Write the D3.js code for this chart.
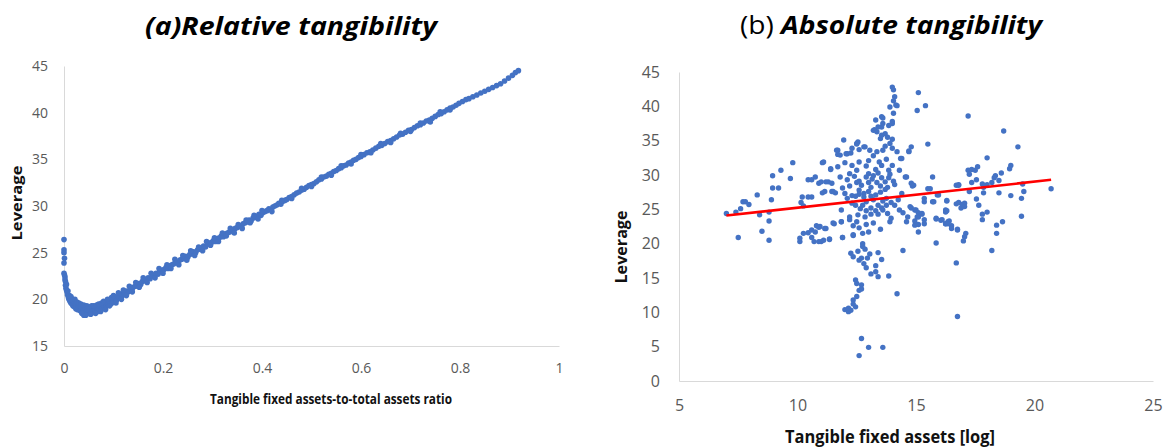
<!DOCTYPE html>
<html>
<head>
<meta charset="utf-8">
<script src="https://cdn.jsdelivr.net/npm/d3@7"></script>
<style>
  body { margin: 0; background: #fff; }
  text { font-family: "Open Sans", "Noto Sans", sans-serif; }
</style>
</head>
<body>
<svg id="chart" width="1169" height="447"></svg>
<script>
// (a) relative tangibility: [ratio, leverage]
const relPoints = [
  [0,26.4],[0,25.3],[0,25.0],[0.001,24.4],[0,23.9],[0.001,22.6],[0,22.8],[0.002,22.4],[0.002,22.1],
  [0.003,21.9],[0.003,21.5],[0.004,21.2],[0.005,21.0],[0.005,21.6],[0.006,20.8],[0.007,20.5],[0.008,20.9],
  [0.009,20.2],[0.010,20.0],[0.011,20.4],[0.012,19.8],[0.014,19.6],[0.015,20.1],[0.016,19.5],[0.018,19.3],
  [0.019,19.8],[0.021,19.2],[0.022,19.6],[0.024,19.0],[0.025,19.4],[0.027,18.9],[0.028,19.3],[0.030,19.1],
  [0.032,18.8],[0.033,19.2],[0.035,18.9],[0.037,18.6],[0.038,19.1],[0.040,18.3],[0.041,18.8],[0.043,19.0],
  [0.045,18.6],[0.047,18.9],[0.049,18.5],[0.051,18.8],[0.053,19.0],[0.055,18.7],[0.057,18.9],[0.059,18.6],
  [0.061,19.0],[0.063,18.8],[0.065,19.1],[0.067,18.7],[0.069,19.0],[0.071,18.9],[0.073,19.2],[0.075,18.9],
  [0.078,19.1],[0.080,19.4],[0.082,19.0],[0.085,19.3],[0.087,19.6],[0.090,19.4],[0.093,19.7],[0.095,19.5],
  [0.098,19.9],[0.100,19.7],[0.103,20.1],[0.106,19.9],[0.109,20.3],[0.112,20.2],[0.115,20.5],[0.118,20.4],
  [0.121,20.7],[0.124,20.6],[0.127,20.9],[0.130,20.8],[0.134,21.1],[0.137,21.0],[0.140,21.3],[0.144,21.4],
  [0.147,21.5],[0.151,21.7],[0.155,21.6],[0.158,21.9],[0.162,22.0],[0.166,22.1],[0.170,22.3],[0.174,22.2],
  [0.178,22.5],[0.182,22.6],[0.186,22.8],[0.190,22.7],[0.194,23.0],[0.198,23.1],[0.202,23.2],[0.206,23.4],
  [0.210,23.3],[0.214,23.6],[0.218,23.7],[0.222,23.8],[0.226,24.0],[0.230,23.9],[0.234,24.2],[0.238,24.3],
  [0.242,24.4],[0.246,24.6],[0.250,24.5],[0.254,24.8],[0.258,24.9],[0.262,25.1],[0.266,25.0],[0.270,25.3],
  [0.274,25.4],[0.278,25.5],[0.282,25.7],[0.286,25.6],[0.290,25.9],[0.294,26.0],[0.298,26.1],[0.302,26.3],
  [0.306,26.2],[0.310,26.5],[0.314,26.6],[0.318,26.8],[0.322,26.7],[0.326,27.0],[0.330,27.1],[0.334,27.2],
  [0.338,27.4],[0.342,27.3],[0.346,27.6],[0.350,27.7],[0.354,27.9],[0.358,27.8],[0.362,28.1],[0.366,28.2],
  [0.370,28.3],[0.374,28.5],[0.378,28.4],[0.382,28.7],[0.386,28.8],[0.390,28.9],[0.394,29.1],[0.398,29.0],
  [0.402,29.3],[0.406,29.4],[0.410,29.5],[0.414,29.7],[0.418,29.6],[0.422,29.9],[0.426,30.0],[0.430,30.1],
  [0.434,30.3],[0.438,30.2],[0.442,30.5],[0.446,30.6],[0.450,30.7],[0.455,30.9],[0.460,31.0],[0.465,31.2],
  [0.470,31.4],[0.475,31.5],[0.480,31.7],[0.485,31.8],[0.490,32.0],[0.495,32.2],[0.500,32.3],[0.505,32.4],
  [0.510,32.6],[0.515,32.8],[0.520,32.9],[0.525,33.1],[0.530,33.2],[0.535,33.4],[0.540,33.5],[0.545,33.7],
  [0.550,33.8],[0.555,34.0],[0.560,34.1],[0.565,34.3],[0.570,34.4],[0.575,34.6],[0.580,34.7],[0.585,34.9],
  [0.590,35.0],[0.595,35.2],[0.600,35.3],[0.606,35.5],[0.612,35.7],[0.618,35.8],[0.624,36.0],[0.630,36.2],
  [0.636,36.4],[0.642,36.5],[0.648,36.7],[0.654,36.9],[0.660,37.0],[0.666,37.2],[0.672,37.4],[0.678,37.6],
  [0.684,37.7],[0.690,37.9],[0.696,38.1],[0.702,38.2],[0.708,38.4],[0.714,38.6],[0.720,38.7],[0.726,38.9],
  [0.732,39.1],[0.738,39.2],[0.744,39.4],[0.750,39.6],[0.756,39.8],[0.762,39.9],[0.768,40.1],[0.774,40.3],
  [0.780,40.5],[0.786,40.6],[0.792,40.8],[0.798,41.0],[0.805,41.2],[0.812,41.4],[0.818,41.5],[0.826,41.7],
  [0.834,41.9],[0.842,42.1],[0.850,42.3],[0.858,42.5],[0.866,42.7],[0.874,42.9],[0.882,43.1],[0.890,43.4],
  [0.898,43.7],[0.906,44.0],[0.912,44.3],[0.918,44.5],
  // second row of the band, where the cloud is thicker
  [0.014,20.3],[0.018,19.9],[0.022,20.0],[0.026,19.7],[0.030,19.6],[0.034,19.5],[0.036,18.5],[0.040,19.4],
  [0.044,18.3],[0.046,19.3],[0.050,19.2],[0.054,18.4],[0.056,19.3],[0.060,19.3],[0.064,18.5],[0.066,19.4],
  [0.070,19.5],[0.074,18.7],[0.076,19.6],[0.080,19.8],[0.084,18.9],[0.088,20.0],[0.092,19.3],[0.096,20.2],
  [0.100,20.4],[0.105,19.6],[0.110,20.7],[0.116,20.0],[0.120,21.0],[0.126,20.4],[0.132,21.4],[0.138,20.8],
  [0.145,21.8],[0.152,21.3],[0.160,22.3],[0.168,21.8],[0.176,22.8],[0.184,22.3],[0.192,23.3],[0.200,22.8],
  [0.208,23.7],[0.216,23.3],[0.224,24.3],[0.232,23.7],[0.240,24.7],[0.248,24.2],[0.256,25.2],[0.264,24.7],
  [0.272,25.6],[0.280,25.2],[0.288,26.2],[0.296,25.8],[0.304,26.6],[0.312,26.2],[0.320,27.1],[0.328,26.8],
  [0.336,27.6],[0.344,27.1],[0.352,28.0],[0.360,27.6],[0.368,28.5],[0.376,28.2],[0.384,29.0],[0.392,28.6],
  [0.400,29.5],[0.420,29.4],[0.440,30.6],[0.460,30.8],[0.480,31.9],[0.500,32.1],[0.520,33.1],[0.540,33.3],
  [0.560,34.3],[0.580,34.5],[0.600,35.5],[0.620,35.7],[0.640,36.7],[0.660,36.8],[0.680,37.8],[0.700,38.0],
  [0.720,38.9],[0.740,39.0],[0.760,40.1],[0.780,40.3]
];

// (b) absolute tangibility: [log tangible fixed assets, leverage]
const absPoints = [
  [7.0,24.4],[7.4,24.6],[7.6,25.1],[7.7,26.1],[7.8,26.1],[7.95,25.7],[8.3,27.1],[8.4,24.2],[7.5,20.9],[8.5,21.8],
  [8.8,24.6],[8.8,23.3],[8.8,20.5],[8.9,26.4],[8.95,28.1],[9.2,28.1],[8.95,29.9],[9.3,30.7],[9.7,29.5],[9.8,31.8],
  [10.15,26.0],[10.25,25.5],[10.2,26.8],[10.45,26.8],[10.6,26.8],[10.45,29.3],[10.6,29.3],[10.75,29.7],[10.9,28.8],
  [11.05,31.8],[11.05,27.4],[11.3,29.0],[11.4,30.9],[11.45,27.6],[11.6,27.4],[11.8,29.7],[11.7,31.2],[11.7,33.6],
  [11.7,33.0],[11.95,35.1],[12.1,33.1],[12.3,33.9],[12.5,34.6],[12.55,34.8],[12.6,33.7],[12.8,34.1],[13.05,33.6],
  [13.3,38.0],[13.55,38.5],[13.55,37.0],[13.6,37.5],[13.2,36.5],[13.35,36.3],[13.5,35.3],[13.7,36.0],[14.0,42.8],
  [14.05,42.4],[14.1,41.4],[14.05,40.8],[13.9,39.9],[14.2,40.1],[14.05,39.0],[14.0,37.5],[14.0,35.2],[15.1,42.0],
  [15.05,39.4],[15.4,40.1],[15.5,34.5],[14.8,34.1],[14.7,33.5],[14.4,32.4],[14.3,30.7],[14.55,29.7],[14.8,28.8],
  [14.85,28.4],[15.6,28.0],[15.7,26.1],[15.85,23.7],[15.85,20.1],
  [14.15,40.2],[13.6,38.3],[13.25,36.6],[13.4,37.0],[13.55,35.8],[14.0,37.8],[13.85,37.2],[12.5,34.5],[12.85,34.1],
  [11.65,33.6],[11.8,32.9],[12.05,33.1],[12.25,33.2],[13.35,33.4],[13.6,33.6],[14.0,33.9],[14.2,33.4],[14.35,32.4],
  [14.7,33.4],[11.1,31.9],[11.4,30.8],[12.3,31.4],[12.6,31.9],[12.5,30.7],[13.3,30.8],[13.55,31.4],[13.85,30.7],
  [14.0,31.4],[11.2,29.0],[11.45,28.8],[11.0,29.0],[12.2,28.4],[12.6,29.1],[13.0,28.9],[13.15,29.4],[13.35,28.9],
  [13.55,29.6],[13.85,29.6],[14.05,29.1],[14.6,29.7],[14.9,28.5],[15.7,29.7],[15.5,28.0],[15.9,27.1],[16.7,28.5],
  [11.15,27.6],[11.5,27.6],[12.1,26.6],[12.3,27.0],[12.6,27.8],[12.8,27.3],[13.3,27.1],[13.75,26.6],[13.95,26.0],
  [13.75,25.6],[13.4,25.6],[13.1,25.2],[12.75,25.6],[12.45,25.6],[11.85,24.9],[12.2,23.9],[12.55,24.2],[12.85,23.9],
  [13.1,24.3],[13.4,24.3],[13.6,24.9],[14.3,24.9],[14.45,24.5],[14.65,23.9],[14.8,25.2],[15.0,24.9],[15.1,23.9],
  [15.25,24.3],[14.6,23.2],[14.95,22.7],[15.1,21.7],[15.35,22.9],[15.85,23.6],[16.05,23.4],[16.25,22.9],[16.35,23.2],
  [16.75,22.0],[16.25,24.6],[16.7,25.8],[10.95,22.5],[11.2,22.2],[11.55,22.9],[11.85,23.2],[11.0,20.3],[11.35,20.6],
  [11.9,20.9],[12.35,21.2],[12.5,23.2],[12.75,21.5],[13.0,21.7],[13.9,23.2],[13.95,23.7],[12.75,20.0],[12.85,19.2],
  [12.25,18.6],[12.35,18.1],[12.6,17.6],[12.7,17.9],[12.95,17.9],[12.8,17.1],[13.4,18.7],[13.55,17.7],[13.3,16.8],
  [14.45,19.0],[16.7,17.2],[13.1,15.6],[13.3,15.9],[13.4,15.2],[13.85,15.3],[12.45,14.7],[12.5,14.2],[12.7,13.4],
  [12.6,13.2],[14.2,12.7],[12.35,11.8],[12.45,10.8],[12.0,10.4],[12.15,10.1],[12.25,10.3],[16.75,9.4],[12.7,6.2],
  [13.0,4.9],[13.6,4.9],[12.6,3.7],
  [17.2,38.6],[18.7,36.4],[19.3,34.1],[18.0,32.5],[17.2,30.7],[17.35,30.8],[17.5,30.7],[17.6,31.2],[17.25,30.1],
  [17.55,29.3],[19.0,31.4],[18.95,30.9],[18.6,30.3],[18.35,29.9],[18.3,29.6],[18.5,29.2],[18.2,28.9],[18.0,28.6],
  [17.8,28.7],[17.85,28.2],[17.35,28.9],[16.8,28.5],[17.25,27.6],[17.85,27.4],[18.5,27.4],[19.0,27.0],[19.45,26.6],
  [19.55,27.6],[19.5,28.7],[20.7,28.0],[16.3,26.2],[16.8,26.0],[16.95,25.7],[17.05,25.9],[16.9,25.2],[17.05,25.4],
  [17.55,26.5],[17.65,25.6],[18.0,24.6],[17.8,24.3],[17.8,23.5],[16.25,24.9],[16.1,23.5],[16.4,23.3],[16.25,22.9],
  [16.5,22.6],[16.5,22.2],[16.75,22.1],[17.1,21.5],[17.05,21.0],[17.0,20.4],[18.4,22.7],[18.65,23.2],[18.4,21.5],
  [19.45,24.0],[18.2,19.0],
  [15.35,26.6],[15.35,26.1],[15.75,26.1],[16.3,26.3],[16.8,28.6],[16.3,24.8],[15.95,27.1],[14.75,25.4],[14.95,24.9],
  [15.1,24.5],[15.25,24.4],[15.05,23.9],[14.95,23.3],[15.1,22.8],[15.35,23.5],[16.35,22.9],
  [10.1,20.3],[10.1,20.8],[10.25,21.5],[10.45,21.6],[10.6,22.0],[10.8,22.6],[10.9,22.4],[10.75,21.7],[10.6,20.9],
  [10.7,20.3],[10.9,20.3],[11.15,22.2],[11.1,20.5],[11.35,20.7],[11.5,23.0],[11.85,23.2],[11.9,20.9],[12.35,21.3],
  [12.2,23.5],
  [12.4,29.8],[12.5,28.9],[12.7,28.5],[12.9,29.7],[13.0,30.2],[13.1,28.2],[13.2,29.9],[13.4,30.3],[13.5,28.4],
  [13.7,29.0],[13.8,28.2],[13.9,30.1],[14.1,28.6],[12.6,27.2],[12.8,26.8],[13.0,27.6],[13.2,26.4],[13.5,27.5],
  [13.7,27.9],[12.9,26.1],[13.1,26.9],[12.45,26.9],[12.3,25.9],[12.65,25.1],[12.9,24.8],[13.3,24.8],[13.55,25.2],
  [13.8,24.4],[14.1,25.6],[14.25,26.4],[14.4,27.3],[13.6,26.2],[13.0,32.1],[13.2,32.8],[12.9,31.3],[13.45,31.9],
  [13.75,32.3],[12.2,30.2],[12.0,31.8],[12.1,29.3],[11.9,28.1],[12.0,27.3],[12.35,22.6],[12.6,22.3],[12.9,22.8],
  [13.2,23.0],[13.5,22.1],[12.75,19.6],[12.55,18.9],[13.05,18.5],[12.9,16.5],[12.7,14.0],[12.35,11.2],[12.15,10.6],
  [12.5,12.3],[13.9,34.6],[13.7,34.2],[13.8,35.5]
];

// linear trend (b)
const trendX = [7.0, 20.7];
const trendY = [24.1, 29.3];

const relXTicks = [0, 0.2, 0.4, 0.6, 0.8, 1];
const relXLabels = ["0", "0.2", "0.4", "0.6", "0.8", "1"];
const relYTicks = [15, 20, 25, 30, 35, 40, 45];
const absXTicks = [5, 10, 15, 20, 25];
const absYTicks = [0, 5, 10, 15, 20, 25, 30, 35, 40, 45];

const dotColor = "#4472C4";
const gridGrey = "#d9d9d9";
const labelGrey = "#595959";

const svg = d3.select("#chart");

function styleAxis(g, size) {
  g.select(".domain").attr("stroke", gridGrey).attr("stroke-width", 1);
  g.selectAll(".tick line").remove();
  g.selectAll(".tick text")
    .attr("fill", labelGrey)
    .style("font-family", '"Open Sans", sans-serif')
    .style("font-size", size + "px");
}

// ---------- panel (a) ----------
const xRel = d3.scaleLinear().domain([0, 1]).range([64, 559]);
const yRel = d3.scaleLinear().domain([15, 45]).range([346, 66]);

svg.append("g")
  .attr("transform", "translate(0,346)")
  .call(d3.axisBottom(xRel).tickValues(relXTicks)
    .tickFormat((d, i) => relXLabels[i]).tickSize(0).tickSizeOuter(0).tickPadding(17))
  .call(g => styleAxis(g, 14));

svg.append("g")
  .attr("transform", "translate(64,0)")
  .call(d3.axisLeft(yRel).tickValues(relYTicks).tickSize(0).tickSizeOuter(0).tickPadding(16))
  .call(g => styleAxis(g, 14));

svg.append("g").selectAll("circle")
  .data(relPoints)
  .join("circle")
  .attr("cx", d => xRel(d[0]))
  .attr("cy", d => yRel(d[1]))
  .attr("r", 2.8)
  .attr("fill", dotColor);

svg.append("text")
  .attr("x", 291).attr("y", 35)
  .attr("text-anchor", "middle")
  .attr("textLength", 292).attr("lengthAdjust", "spacingAndGlyphs")
  .style("font-size", "25px").style("font-weight", "bold").style("font-style", "italic")
  .text("(a)Relative tangibility");

svg.append("text")
  .attr("x", 331).attr("y", 404)
  .attr("text-anchor", "middle")
  .attr("textLength", 242).attr("lengthAdjust", "spacingAndGlyphs")
  .style("font-size", "15px").style("font-weight", "bold").attr("fill", "#111")
  .text("Tangible fixed assets-to-total assets ratio");

svg.append("text")
  .attr("transform", "translate(22,203) rotate(-90)")
  .attr("text-anchor", "middle")
  .attr("textLength", 75).attr("lengthAdjust", "spacingAndGlyphs")
  .style("font-size", "15px").style("font-weight", "bold").attr("fill", "#111")
  .text("Leverage");

// ---------- panel (b) ----------
const xAbs = d3.scaleLinear().domain([5, 25]).range([679, 1153]);
const yAbs = d3.scaleLinear().domain([0, 45]).range([381, 72]);

svg.append("g")
  .attr("transform", "translate(0,381)")
  .call(d3.axisBottom(xAbs).tickValues(absXTicks).tickSize(0).tickSizeOuter(0).tickPadding(19))
  .call(g => styleAxis(g, 16));

svg.append("g")
  .attr("transform", "translate(679,0)")
  .call(d3.axisLeft(yAbs).tickValues(absYTicks).tickSize(0).tickSizeOuter(0).tickPadding(19))
  .call(g => styleAxis(g, 16));

svg.append("g").selectAll("circle")
  .data(absPoints)
  .join("circle")
  .attr("cx", d => xAbs(d[0]))
  .attr("cy", d => yAbs(d[1]))
  .attr("r", 2.7)
  .attr("fill", dotColor);

svg.append("path")
  .datum(d3.zip(trendX, trendY))
  .attr("d", d3.line().x(d => xAbs(d[0])).y(d => yAbs(d[1])))
  .attr("stroke", "#ff0000").attr("stroke-width", 2.6).attr("fill", "none");

const tb = svg.append("text")
  .attr("x", 891).attr("y", 34)
  .attr("text-anchor", "middle")
  .attr("textLength", 302).attr("lengthAdjust", "spacingAndGlyphs")
  .style("font-size", "25px");
tb.append("tspan").text("(b) ");
tb.append("tspan").style("font-weight", "bold").style("font-style", "italic").text("Absolute tangibility");

svg.append("text")
  .attr("x", 890).attr("y", 443)
  .attr("text-anchor", "middle")
  .attr("textLength", 210).attr("lengthAdjust", "spacingAndGlyphs")
  .style("font-size", "17px").style("font-weight", "bold").attr("fill", "#111")
  .text("Tangible fixed assets [log]");

svg.append("text")
  .attr("transform", "translate(627,247) rotate(-90)")
  .attr("text-anchor", "middle")
  .attr("textLength", 73).attr("lengthAdjust", "spacingAndGlyphs")
  .style("font-size", "16px").style("font-weight", "bold").attr("fill", "#111")
  .text("Leverage");
</script>
</body>
</html>
